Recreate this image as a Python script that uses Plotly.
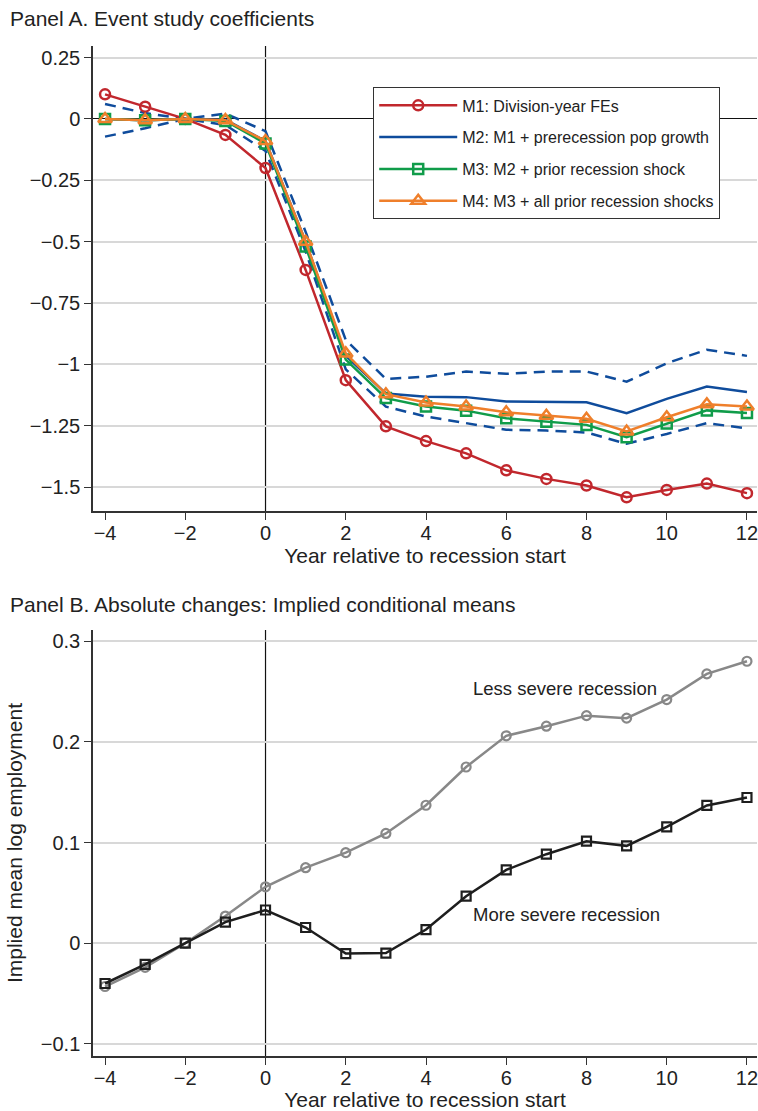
import plotly.graph_objects as go

# Years relative to recession start
years = [-4, -3, -2, -1, 0, 1, 2, 3, 4, 5, 6, 7, 8, 9, 10, 11, 12]

# Panel A: event study coefficients
m1 = [0.10, 0.05, 0.0, -0.065, -0.20, -0.615, -1.064, -1.252, -1.312, -1.362, -1.431,
      -1.466, -1.493, -1.541, -1.511, -1.485, -1.524]
m2 = [0.0, -0.005, 0.0, -0.003, -0.09, -0.50, -0.965, -1.118, -1.131, -1.133, -1.151,
      -1.151, -1.154, -1.198, -1.140, -1.090, -1.112]
m2_hi = [0.061, 0.024, 0.0, 0.022, -0.05, -0.46, -0.90, -1.059, -1.050, -1.029, -1.038,
         -1.029, -1.029, -1.070, -0.995, -0.940, -0.965]
m2_lo = [-0.072, -0.038, 0.0, -0.025, -0.13, -0.54, -1.02, -1.172, -1.212, -1.239, -1.266,
         -1.269, -1.277, -1.323, -1.283, -1.239, -1.260]
m3 = [0.0, -0.005, 0.0, -0.008, -0.10, -0.52, -0.980, -1.137, -1.171, -1.188, -1.219,
      -1.233, -1.246, -1.296, -1.240, -1.187, -1.198]
m4 = [0.0, -0.005, 0.0, -0.005, -0.09, -0.50, -0.955, -1.121, -1.155, -1.171, -1.195,
      -1.209, -1.221, -1.273, -1.215, -1.162, -1.171]

# Panel B: implied conditional means
less_severe = [-0.043, -0.024, 0.0, 0.027, 0.056, 0.075, 0.090, 0.109, 0.137, 0.175,
               0.206, 0.2155, 0.226, 0.2235, 0.242, 0.2675, 0.280]
more_severe = [-0.040, -0.021, 0.0, 0.021, 0.033, 0.0156, -0.0103, -0.0098, 0.0136,
               0.0467, 0.0728, 0.0884, 0.1013, 0.0967, 0.1156, 0.1368, 0.1447]

ya_ticks = [0.25, 0, -0.25, -0.5, -0.75, -1, -1.25, -1.5]
ya_text = ["0.25", "0", "\u22120.25", "\u22120.5", "\u22120.75", "\u22121", "\u22121.25", "\u22121.5"]
yb_ticks = [0.3, 0.2, 0.1, 0, -0.1]
yb_text = ["0.3", "0.2", "0.1", "0", "\u22120.1"]
x_ticks = [-4, -2, 0, 2, 4, 6, 8, 10, 12]
x_text = ["\u22124", "\u22122", "0", "2", "4", "6", "8", "10", "12"]

RED = "#c1272d"
BLUE = "#0f4c9c"
GREEN = "#109c4a"
ORANGE = "#ef7f2b"
FONT = "Liberation Sans, Arial, sans-serif"
TXT = "#222222"

fig = go.Figure()

# Confidence band of M2 (dashed)
for band in (m2_hi, m2_lo):
    fig.add_trace(go.Scatter(x=years, y=band, mode="lines", showlegend=False,
                             line=dict(color=BLUE, width=2.5, dash="11px,7px"),
                             xaxis="x", yaxis="y", hoverinfo="skip"))

fig.add_trace(go.Scatter(x=years, y=m1, mode="lines+markers", name="M1: Division-year FEs",
                         legendgroup="m1",
                         line=dict(color=RED, width=2.5),
                         marker=dict(symbol="circle-open", size=10, color=RED,
                                     line=dict(width=2.5, color=RED)),
                         xaxis="x", yaxis="y"))
fig.add_trace(go.Scatter(x=years, y=m2, mode="lines", name="M2: M1 + prerecession pop growth",
                         legendgroup="m2",
                         line=dict(color=BLUE, width=2.5), xaxis="x", yaxis="y"))
fig.add_trace(go.Scatter(x=years, y=m3, mode="lines+markers", name="M3: M2 + prior recession shock",
                         legendgroup="m3",
                         line=dict(color=GREEN, width=2.5),
                         marker=dict(symbol="square-open", size=10, color=GREEN,
                                     line=dict(width=2.5, color=GREEN)),
                         xaxis="x", yaxis="y"))
fig.add_trace(go.Scatter(x=years, y=m4, mode="lines+markers",
                         name="M4: M3 + all prior recession shocks",
                         legendgroup="m4",
                         line=dict(color=ORANGE, width=2.5),
                         marker=dict(symbol="triangle-up-open", size=12, color=ORANGE,
                                     line=dict(width=2.5, color=ORANGE)),
                         xaxis="x", yaxis="y"))

fig.add_trace(go.Scatter(x=years, y=less_severe, mode="lines+markers", showlegend=False,
                         line=dict(color="#888888", width=2.5),
                         marker=dict(symbol="circle-open", size=9, color="#888888",
                                     line=dict(width=2.2, color="#888888")),
                         xaxis="x2", yaxis="y2"))
fig.add_trace(go.Scatter(x=years, y=more_severe, mode="lines+markers", showlegend=False,
                         line=dict(color="#1e1e1e", width=2.5),
                         marker=dict(symbol="square-open", size=9, color="#1e1e1e",
                                     line=dict(width=2.2, color="#1e1e1e")),
                         xaxis="x2", yaxis="y2"))

axis_common = dict(showline=True, linecolor="#333333", linewidth=1.5, ticks="outside",
                   ticklen=7, tickwidth=1.3, tickcolor="#333333",
                   ticklabeloverflow="allow",
                   tickfont=dict(family=FONT, size=20, color=TXT))
xtitle = dict(text="Year relative to recession start",
              font=dict(family=FONT, size=21, color=TXT), standoff=0)

fig.update_layout(
    width=758, height=1111,
    margin=dict(l=93, r=1, t=0, b=0),
    paper_bgcolor="white", plot_bgcolor="white",
    font=dict(family=FONT, color=TXT),
    xaxis=dict(domain=[0, 1], anchor="y", range=[-4.3, 12.25], tickvals=x_ticks,
               ticktext=x_text, showgrid=False, zeroline=False, title=xtitle,
               ticklabelstandoff=-4, **axis_common),
    yaxis=dict(domain=[0.540, 0.9586], anchor="x", range=[-1.597, 0.297],
               tickvals=ya_ticks, ticktext=ya_text, showgrid=True, gridcolor="#d8d8d8",
               gridwidth=1.5, zeroline=True, zerolinecolor="#111111", zerolinewidth=1.2,
               **axis_common),
    xaxis2=dict(domain=[0, 1], anchor="y2", range=[-4.3, 12.25], tickvals=x_ticks,
                ticktext=x_text, showgrid=False, zeroline=False, title=xtitle,
                ticklabelstandoff=-4, **axis_common),
    yaxis2=dict(domain=[0.0495, 0.4329], anchor="x2", range=[-0.112, 0.311],
                tickvals=yb_ticks, ticktext=yb_text, showgrid=True, gridcolor="#d8d8d8",
                gridwidth=1.5, zeroline=False,
                title=dict(text="Implied mean log employment",
                           font=dict(family=FONT, size=21, color=TXT), standoff=12),
                **axis_common),
    legend=dict(x=0.4217, y=0.9215, xanchor="left", yanchor="top",
                bgcolor="white", bordercolor="#333333", borderwidth=1.2,
                font=dict(family=FONT, size=16, color=TXT),
                traceorder="grouped", tracegroupgap=8, itemwidth=78),
    showlegend=True,
)

# Vertical reference line at the recession start in both panels
for xr, yr in (("x", "y"), ("x2", "y2")):
    fig.add_shape(type="line", xref=xr, yref=yr + " domain", x0=0, x1=0, y0=0, y1=1,
                  line=dict(color="#111111", width=1.2), layer="below")

fig.add_annotation(text="Panel A. Event study coefficients", xref="paper", yref="paper",
                   x=-0.128, y=1 - 18 / 1111, xanchor="left", yanchor="middle",
                   showarrow=False, font=dict(family=FONT, size=21, color=TXT))
fig.add_annotation(text="Panel B. Absolute changes: Implied conditional means", xref="paper",
                   yref="paper", x=-0.128, y=1 - 604 / 1111, xanchor="left",
                   yanchor="middle", showarrow=False,
                   font=dict(family=FONT, size=21, color=TXT))
fig.add_annotation(text="Less severe recession", xref="x2", yref="y2", x=5.12, y=0.2525,
                   xanchor="left", yanchor="middle", showarrow=False,
                   font=dict(family=FONT, size=18.5, color=TXT))
fig.add_annotation(text="More severe recession", xref="x2", yref="y2", x=5.12, y=0.0288,
                   xanchor="left", yanchor="middle", showarrow=False,
                   font=dict(family=FONT, size=18.5, color=TXT))

fig.write_html("out.html")
